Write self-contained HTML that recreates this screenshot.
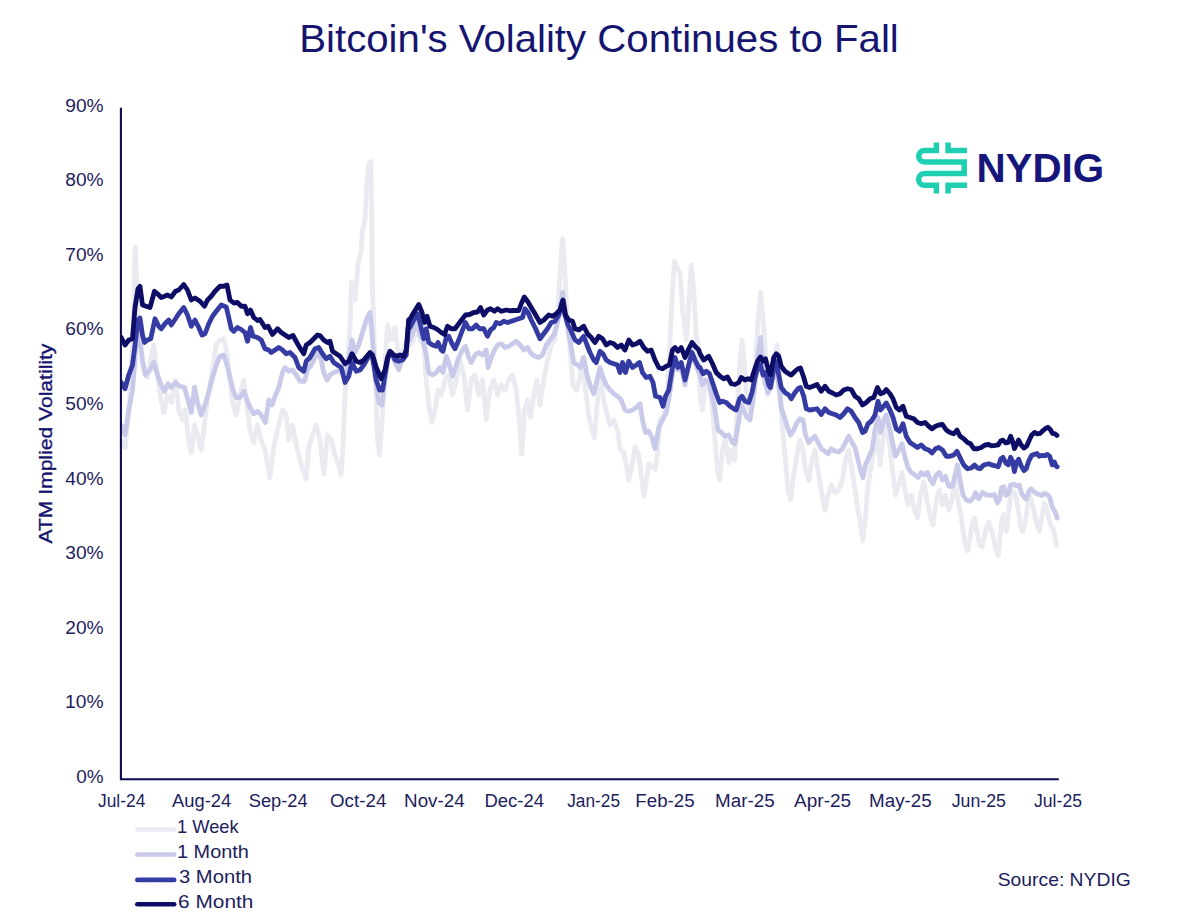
<!DOCTYPE html>
<html><head><meta charset="utf-8"><title>Bitcoin's Volality Continues to Fall</title>
<style>
html,body{margin:0;padding:0;background:#fff;}
body{width:1200px;height:917px;overflow:hidden;font-family:"Liberation Sans",sans-serif;}
svg{display:block;}
text{font-family:"Liberation Sans",sans-serif;}
</style></head><body>
<svg width="1200" height="917" viewBox="0 0 1200 917">
<rect width="1200" height="917" fill="#ffffff"/>
<defs><clipPath id="plot"><rect x="121.5" y="100" width="960" height="690"/></clipPath></defs>
<text x="299.30" y="52.2" font-size="38.5" fill="#15156f"  textLength="599.50" lengthAdjust="spacingAndGlyphs">Bitcoin's Volality Continues to Fall</text>
<text x="76.25" y="782.95" font-size="18" fill="#1d1d5c"  textLength="27.33" lengthAdjust="spacingAndGlyphs">0%</text>
<text x="65.10" y="708.37" font-size="18" fill="#1d1d5c"  textLength="38.48" lengthAdjust="spacingAndGlyphs">10%</text>
<text x="65.25" y="633.7900000000001" font-size="18" fill="#1d1d5c"  textLength="38.33" lengthAdjust="spacingAndGlyphs">20%</text>
<text x="65.25" y="559.21" font-size="18" fill="#1d1d5c"  textLength="38.33" lengthAdjust="spacingAndGlyphs">30%</text>
<text x="65.25" y="484.63" font-size="18" fill="#1d1d5c"  textLength="38.33" lengthAdjust="spacingAndGlyphs">40%</text>
<text x="65.25" y="410.04999999999995" font-size="18" fill="#1d1d5c"  textLength="38.33" lengthAdjust="spacingAndGlyphs">50%</text>
<text x="65.25" y="335.46999999999997" font-size="18" fill="#1d1d5c"  textLength="38.33" lengthAdjust="spacingAndGlyphs">60%</text>
<text x="65.25" y="260.88999999999993" font-size="18" fill="#1d1d5c"  textLength="38.33" lengthAdjust="spacingAndGlyphs">70%</text>
<text x="65.25" y="186.31" font-size="18" fill="#1d1d5c"  textLength="38.33" lengthAdjust="spacingAndGlyphs">80%</text>
<text x="65.25" y="111.72999999999998" font-size="18" fill="#1d1d5c"  textLength="38.33" lengthAdjust="spacingAndGlyphs">90%</text>
<text x="98.00" y="807.4" font-size="18" fill="#1d1d5c"  textLength="47.34" lengthAdjust="spacingAndGlyphs">Jul-24</text>
<text x="172.00" y="807.4" font-size="18" fill="#1d1d5c"  textLength="59.16" lengthAdjust="spacingAndGlyphs">Aug-24</text>
<text x="248.76" y="807.4" font-size="18" fill="#1d1d5c"  textLength="58.90" lengthAdjust="spacingAndGlyphs">Sep-24</text>
<text x="330.00" y="807.4" font-size="18" fill="#1d1d5c"  textLength="56.34" lengthAdjust="spacingAndGlyphs">Oct-24</text>
<text x="404.10" y="807.4" font-size="18" fill="#1d1d5c"  textLength="60.56" lengthAdjust="spacingAndGlyphs">Nov-24</text>
<text x="484.44" y="807.4" font-size="18" fill="#1d1d5c"  textLength="59.56" lengthAdjust="spacingAndGlyphs">Dec-24</text>
<text x="567.24" y="807.4" font-size="18" fill="#1d1d5c"  textLength="52.76" lengthAdjust="spacingAndGlyphs">Jan-25</text>
<text x="635.36" y="807.4" font-size="18" fill="#1d1d5c"  textLength="59.22" lengthAdjust="spacingAndGlyphs">Feb-25</text>
<text x="715.10" y="807.4" font-size="18" fill="#1d1d5c"  textLength="59.48" lengthAdjust="spacingAndGlyphs">Mar-25</text>
<text x="794.00" y="807.4" font-size="18" fill="#1d1d5c"  textLength="57.16" lengthAdjust="spacingAndGlyphs">Apr-25</text>
<text x="869.10" y="807.4" font-size="18" fill="#1d1d5c"  textLength="62.64" lengthAdjust="spacingAndGlyphs">May-25</text>
<text x="951.74" y="807.4" font-size="18" fill="#1d1d5c"  textLength="54.26" lengthAdjust="spacingAndGlyphs">Jun-25</text>
<text x="1034.00" y="807.4" font-size="18" fill="#1d1d5c"  textLength="48.00" lengthAdjust="spacingAndGlyphs">Jul-25</text>
<text x="177.02" y="832.6" font-size="18.5" fill="#1d1d5c"  textLength="61.66" lengthAdjust="spacingAndGlyphs">1 Week</text>
<text x="177.02" y="857.6" font-size="18.5" fill="#1d1d5c"  textLength="71.80" lengthAdjust="spacingAndGlyphs">1 Month</text>
<text x="179.00" y="883" font-size="18.5" fill="#1d1d5c"  textLength="73.08" lengthAdjust="spacingAndGlyphs">3 Month</text>
<text x="178.10" y="908.25" font-size="18.5" fill="#1d1d5c"  textLength="75.30" lengthAdjust="spacingAndGlyphs">6 Month</text>
<text x="997.68" y="885.8" font-size="19" fill="#1d1d5c"  textLength="133.14" lengthAdjust="spacingAndGlyphs">Source: NYDIG</text>
<text x="976.46" y="181.7" font-size="40.5" fill="#15157a" font-weight="bold" textLength="127.76" lengthAdjust="spacingAndGlyphs">NYDIG</text>
<text transform="translate(51.6,543.6) rotate(-90)" font-size="18" fill="#15156f" stroke="#15156f" stroke-width="0.35" textLength="200" lengthAdjust="spacingAndGlyphs">ATM Implied Volatility</text>
<path d="M121.25,440 L125,447.5 L128.75,415 L132,352.5 L133.5,315 L134.5,270 L135,247 L135.5,247 L136.25,270 L137.5,310 L140,340 L143.75,365 L147.5,377.5 L151.25,357.5 L153.75,345 L157.5,375 L161.25,400 L163.75,412.5 L167.5,395 L171.25,402.5 L175.5,380 L178.75,410 L182.5,420 L185,410 L188.75,440 L191.25,452.5 L194.5,425 L197.5,435 L201.25,450 L205,420 L208.75,390 L212.5,370 L216.25,345 L220,340 L223.75,338.75 L227,352.5 L230,380 L233,405 L236.25,415 L240,395 L243.75,380 L247,405 L250,430 L253.75,442.5 L257.5,425 L261.25,440 L265,450 L270,477.5 L273.75,447.5 L277.5,430 L282.5,410 L286.25,415 L288.75,440 L292.5,425 L296.25,445 L301.25,465 L306,478.75 L308.75,447.5 L312.5,435 L316.25,425 L320,440 L323.75,473.75 L327.5,435 L331.25,440 L335,455 L338.75,465 L341,475 L342.5,457.5 L345,395 L347.5,360 L350,327.5 L351.5,282.5 L353,287.5 L355,300 L358,265 L361.25,250 L362.5,230 L365,220 L367,180 L369,163.75 L371,161.25 L372.5,290 L375,365 L377.5,440 L379.5,455 L382.5,415 L385,365 L387.5,325 L391.25,340 L395,327.5 L398.75,360 L402.5,350 L406.25,345 L408.75,322.5 L410,345 L413.75,340 L417,322.5 L420,340 L423.75,345 L426.25,380 L428.75,405 L432,422.5 L435,410 L438,390 L441.25,395 L445,380 L448.75,375 L452.5,395 L456.25,380 L460,360 L463.75,375 L467.5,410 L471.25,380 L475,375 L478.75,395 L482.5,380 L486.25,420 L490,390 L493.75,380 L497.5,395 L501.25,385 L505,390 L508.75,380 L512.5,375 L516.25,390 L518.75,415 L521.75,453.75 L524.5,410 L527.5,400 L530.5,417.5 L533.75,395 L537,380 L540,405 L543.75,380 L547.5,360 L551.25,345 L555,340 L558,310 L560.5,265 L562.5,238.75 L564.5,265 L567,315 L570,350 L573,385 L576.25,390 L579.5,380 L582.5,357.5 L585.5,390 L588.75,415 L592,430 L594.5,437.5 L597.5,400 L600.5,380 L603.75,400 L607,415 L610,425 L613.75,420 L617.5,430 L620,449 L623.75,452.5 L626.25,465 L628.75,480 L632,465 L635.25,446.75 L638.75,455 L641.25,475 L644,496 L646.5,480 L648.75,464 L652,466.25 L655.25,469.25 L657.5,452.5 L660,420 L663.75,415 L667,400 L670,340 L672.5,290 L674.5,261.25 L677,267.5 L680,272.5 L683,315 L686.25,340 L688.75,302.5 L691.25,265 L693.75,290 L696.25,335 L698.75,352.5 L700,395 L702.5,410 L705.5,382.5 L708.75,385 L712,405 L715,440 L717.5,470 L719.5,480 L722.5,450 L725.5,440 L728.75,462.5 L732,450 L734.5,460 L737.5,405 L740,362.5 L742,340 L744.5,365 L747,405 L750,410 L752.5,395 L755.5,362.5 L758,320 L760.5,292.5 L762.5,312.5 L765,345 L767.5,395 L770.5,382.5 L773.75,357.5 L777,345 L779.5,370 L782,425 L785,455 L788,490 L790.5,500 L793.75,475 L797,455 L800,440 L803,450 L805.5,470 L808.75,480 L812,460 L815,450 L818,470 L821.25,490 L825,510 L828,495 L831.25,485 L835,492.5 L838.75,490 L842.5,480 L845.5,460 L848.75,450 L852,470 L855,490 L858,510 L860,520 L862.75,541 L865.25,520 L867.5,490 L870.5,470 L873.75,450 L877,435 L880,465 L883,440 L886.25,420 L889.5,445 L892.5,470 L895.5,495 L898.75,485 L902,472.5 L905,490 L908,505 L911.25,495 L914.5,510 L917.5,517.5 L920.5,495 L923.75,482.5 L927,500 L930,515 L933,525 L936.25,500 L939.5,490 L942.5,505 L945.5,495 L948.75,510 L952,500 L955,480 L958,500 L961.25,517.5 L962.9,529.77 L965.19,545.04 L967.67,550.76 L970.15,537.4 L972.44,522.14 L974.73,518.32 L977.21,533.59 L979.69,545.04 L981.98,546.95 L984.27,537.4 L986.76,525.95 L988.66,522.14 L991.15,529.77 L993.44,537.4 L995.73,548.85 L998.21,555.53 L1000.11,537.4 L1002.02,518.32 L1003.93,514.5 L1006.41,531.68 L1008.32,514.5 L1010.61,495.42 L1012.9,491.6 L1015.38,493.51 L1017.86,506.87 L1020.15,524.05 L1022.44,531.68 L1024.92,524.05 L1027.4,506.87 L1029.69,495.42 L1031.98,503.05 L1034.47,514.5 L1036.95,524.05 L1039.24,531.68 L1041.53,518.32 L1044.01,503.05 L1046.49,506.87 L1048.78,518.32 L1051.07,525.95 L1053.55,529.77 L1055.08,537.4 L1056.6,545.42" fill="none" stroke="#eaeaf1" stroke-width="4.8" stroke-linejoin="round" stroke-linecap="round" clip-path="url(#plot)"/>
<path d="M121.25,425 L125,435 L128.75,410 L132.5,390 L135,360 L137.5,322.5 L140,340 L142.5,362.5 L145.5,375 L150,370 L153.75,362.5 L157.5,375 L161.25,385 L164.5,391.25 L168,383.75 L171.25,387.5 L175.5,382.5 L180,386.25 L184.5,387.5 L188,400 L191.25,412.5 L194.5,387.5 L197.5,402.5 L201.25,415 L205,405 L208.75,392.5 L212.5,377.5 L216.25,365 L220,356.25 L223.75,355 L227,365 L230,377.5 L233,390 L236.25,397.5 L240,397.5 L243.75,391.25 L247,400 L250,407.5 L253.75,413.75 L257.5,411.25 L261.25,415 L265.5,422.5 L268.75,400 L272,405 L275,396.25 L278.75,387.5 L282.5,372.5 L285,367.5 L288.75,371.25 L292.5,370 L296.25,375 L300,381.25 L304.5,381.25 L307.5,370 L311.25,365 L315,357.5 L318.75,352.5 L321.25,360 L323.75,372.5 L327,380 L330,375 L333.75,372.5 L337.5,371.25 L341.25,370 L345,377.5 L348.75,360 L352,340 L355,352.5 L358.75,345 L362.5,332.5 L366.25,320 L370,312.5 L372.5,340 L375.5,380 L378.75,402.5 L382,405 L385,380 L388,357.5 L391.25,352.5 L395,362.5 L398.75,370 L402.5,357.5 L406.25,350 L408.75,322.5 L410,340 L413.75,330 L417,320 L420,335 L423,340 L426.25,355 L428.75,372.5 L432.5,375 L436.25,372.5 L440,367.5 L443,372.5 L446.25,356.25 L448.75,362.5 L452.5,376.25 L455.5,367.5 L458.75,357.5 L462.5,350 L465.5,346.25 L468.75,357.5 L471.25,362.5 L475,355 L478.75,352.5 L482.5,355 L486.25,350 L488,367.5 L491.25,357.5 L494.5,350 L497.5,345 L501.25,343.75 L505,347.5 L508.75,346.25 L512.5,343.75 L516.25,341.25 L520,345 L523.75,350 L527.5,347.5 L531.25,353.75 L535,356.25 L538.75,357.5 L542.5,355 L546.25,345 L550,340 L553.75,335 L557,325 L560,312.5 L562.5,292.5 L565,310 L568,330 L571.25,347.5 L573.75,362.5 L577.5,365 L580.5,367.5 L583.75,357.5 L587,375 L590,385 L593.75,393.75 L597,380 L600,367.5 L603,377.5 L606.25,385 L610,390 L613.75,393.75 L617.5,396.25 L621.25,400 L625,410 L628.75,411.25 L632.5,410 L636.25,407.5 L640,403.75 L642.5,420 L645.5,432.5 L648.75,431.25 L652,437.5 L655,448.75 L658.75,427.5 L662.5,420 L666.25,412.5 L669.5,395 L672.5,375 L675,357.5 L678,370 L681.25,367.5 L685,385 L688.75,365 L691.25,350 L695,362.5 L698.75,372.5 L700,375 L702.5,385 L705.5,380 L708.75,382.5 L712,395 L715,410 L718,430 L721.25,432.5 L725,436.25 L728.75,435 L732.5,442.5 L735,443.75 L738,425 L741.25,405 L743.75,410 L747,417.5 L750,420 L753,400 L755.5,380 L758,355 L760.5,337.5 L762.5,362.5 L765,382.5 L768,392.5 L770.5,387.5 L773.75,372.5 L776.25,370 L778.75,385 L781.25,407.5 L784.5,417.5 L787.5,427.5 L790.5,435 L793.75,430 L797,422.5 L800,418.75 L803,420 L805.5,435 L808.75,442.5 L812,438.75 L815,436.25 L818,442.5 L821.25,448.75 L825,451.25 L828,453.75 L831.25,448.75 L835,451.25 L838.75,452 L842.5,448.75 L845.5,442.5 L848.75,436.25 L852,442.5 L855,447.5 L858,460 L860.5,470 L863,477.5 L865.5,465 L868.75,457.5 L872,450 L875,430 L878,417.5 L880.5,432.5 L883.75,420 L886.25,415 L889.5,427.5 L892.5,442.5 L895.5,456.25 L898.75,450 L902,443.75 L905,457.5 L908,467.5 L911.25,472.5 L915,475 L918,477.5 L921.25,472.5 L924.5,475 L927.5,472.5 L930.5,480 L933,483.75 L936.25,475 L939.5,472.5 L942.5,480 L945.5,476.25 L948.75,486.25 L952.5,486.25 L955,475 L957.5,465 L960,480 L963,495 L966.25,500 L970,501.25 L973.75,497.5 L975.5,492.5 L978.75,498.75 L982.5,492.5 L986.25,495 L988.75,495 L991.53,495.42 L994.39,494.47 L997.25,503.05 L999.54,499.24 L1001.45,487.79 L1003.93,486.83 L1005.84,495.42 L1008.32,493.51 L1010.61,484.92 L1013.47,483.97 L1016.34,485.88 L1019.2,484.92 L1021.68,493.51 L1023.97,497.33 L1026.26,499.24 L1028.74,491.6 L1031.22,488.74 L1033.51,491.6 L1036.37,493.51 L1039.24,494.47 L1042.1,495.42 L1044.58,493.51 L1047.25,494.47 L1049.73,497.33 L1052.21,506.87 L1054.5,510.69 L1056.03,514.5 L1057.18,517.94" fill="none" stroke="#c9cae9" stroke-width="4.8" stroke-linejoin="round" stroke-linecap="round" clip-path="url(#plot)"/>
<path d="M121.25,382.5 L125,388.75 L128.75,375 L132.5,365 L135,345 L138,320 L140,318 L142.5,335 L144.5,342.5 L147.5,340 L150.75,338.75 L155,318.75 L158.75,326.25 L161.25,328.75 L165,323.75 L168.75,320 L171.25,325 L175.5,318.75 L178.75,313.75 L183.75,307.5 L187.5,315 L191.25,326.25 L195,320 L198.75,327.5 L202,335 L205,333.75 L208.75,323.75 L212.5,316.25 L216.25,311.25 L221.25,305 L226.25,307 L228.75,317.5 L231.25,328.75 L233.75,331.25 L237.5,327.5 L241.25,329.5 L245,332.5 L247.5,341.25 L250.5,327.5 L253,336.25 L257.5,337.5 L261.25,340 L265,348.75 L268.75,350 L271.25,352.5 L275,350 L278.75,347.5 L282.5,350 L286.25,353.75 L290,352.5 L295,357.5 L298.75,367.5 L303.75,371.25 L306.25,361.25 L310,357.5 L315,348.75 L318.75,347.5 L322.5,353.75 L326.25,358.75 L330,356.25 L333.75,362.5 L337.5,365 L341.25,367.5 L345,382.5 L348.75,376.25 L352,362.5 L356.25,371.25 L360,370 L363.75,365 L370,353.75 L372.5,357.5 L376.25,380 L379.5,390 L382.5,390 L385,375 L388,357.5 L391.25,352.5 L395,360 L398.75,361.25 L402.5,360 L406.25,355 L408.75,320 L410,327.5 L413.75,320 L417.5,313.75 L420.5,325 L423.75,338.75 L426.25,328.75 L428.75,342.5 L432.5,345 L436.25,346.25 L438,342.5 L441.25,350 L443,351.25 L446.25,337.5 L448.75,336.25 L452,343.75 L455,348.75 L458.75,340 L462.5,330 L465.5,322.5 L468.75,328.75 L472.5,328.75 L476.25,325 L479.5,328.75 L483.75,328.75 L487.5,336.25 L490.5,330 L493.75,327.5 L496.25,322.5 L500,323.75 L503.75,321.25 L507.5,322.5 L511.25,321.25 L515,320 L518.75,318.75 L522.5,317.5 L525,308.75 L528,312.5 L531.25,320 L535,327.5 L540,338.75 L543.75,333.75 L547.5,328.75 L551.25,322.5 L555,321.25 L558.75,315 L562.5,301.25 L565,315 L568,325 L571.25,331.25 L575,340 L578.75,342.5 L583.75,336.25 L587,345 L590,352.5 L593.75,360 L596.25,362.5 L600,351.25 L603,353.75 L606.25,360 L610,362.5 L613.75,363.75 L617.5,365 L620,372.5 L622.5,362.5 L625.5,372.5 L628.75,361.25 L632.5,367.5 L636.25,365 L639.5,362.5 L642.5,372.5 L646.25,377.5 L650,376.25 L653,382.5 L655.5,396.25 L660,397.5 L663,406.25 L665.5,396.25 L668.75,390 L672,370 L675,357.5 L678,367.5 L681.25,362.5 L685,380 L688.75,365 L692,352.5 L695,360 L698.75,367.5 L700,367.5 L703,373.75 L706.25,371.25 L709.5,373.75 L712.5,382.5 L716.25,393.75 L719.5,402.5 L722.5,401.25 L726.25,402.5 L730,406.25 L733.75,408.75 L736.25,410 L739.5,398.75 L742,396.25 L745,401.25 L748.75,402.5 L752,392.5 L755,377.5 L758,367.5 L760.5,365 L763,375 L765.5,372.5 L768.75,385 L770.5,387.5 L773.75,368.75 L776.25,361.25 L778.75,375 L781.25,387.5 L785,392.5 L788.75,395 L791.25,398.75 L795,392.5 L798,388.75 L800.5,387.5 L803.75,396.25 L806.25,408.75 L809.5,410 L813,409.5 L817,408.75 L821.25,414.5 L825,408.75 L828.75,412.5 L832.5,413.75 L836.25,415 L840,417.5 L843.75,413.75 L847.5,408.75 L851.25,411.25 L855,417.5 L858.75,422.5 L862.5,432.5 L865,431.25 L868,423.75 L871.25,421.25 L875,415 L878,401.25 L880.5,410 L883.75,406.25 L886.25,403 L890,410 L893,417.5 L896.25,428.75 L899.5,431.25 L903,423.75 L906.25,436.25 L910,442.5 L913.75,445 L917.5,447.5 L921.25,445 L925,448.75 L928.75,450 L932,453 L935.5,448.75 L938.75,447.5 L942.5,450 L946.25,456.25 L950,456.25 L953.75,455 L957,451.25 L960,457.5 L963.75,465 L967.5,468.75 L971.25,468 L974.5,465 L977.5,468 L980,468.75 L983.75,465 L988.75,463.75 L991.53,464.89 L995.34,465.84 L998.21,466.79 L1000.69,459.16 L1002.98,457.25 L1005.84,462.98 L1008.32,464.89 L1010.61,457.25 L1012.52,461.07 L1014.43,471.56 L1016.34,462.98 L1018.63,459.16 L1021.11,465.84 L1023.97,470.61 L1026.26,468.7 L1028.74,461.07 L1031.6,455.34 L1034.47,454.39 L1036.95,453.44 L1039.24,456.3 L1042.1,455.34 L1044.96,455.73 L1047.25,454.39 L1049.73,456.3 L1052.21,464.89 L1054.5,462.02 L1056.03,465.84 L1057.18,466.79" fill="none" stroke="#343ba2" stroke-width="4.8" stroke-linejoin="round" stroke-linecap="round" clip-path="url(#plot)"/>
<path d="M121.25,337.5 L125,345 L128.75,340 L132.5,338.75 L135,307.5 L138,288.75 L140,286.25 L142.5,305 L146.25,306.25 L150,307.5 L154.5,291.25 L157.5,293.75 L161.25,297.5 L164.5,296.25 L167.5,295 L171.25,297 L175.5,291.25 L178.75,290 L183.75,284.5 L187.5,290 L191.25,300 L195,298 L200,301.25 L204.5,306.25 L207.5,300 L211.25,296.25 L215,291.25 L220,286.25 L223.75,286.25 L227,285 L230,300 L233.75,303 L237.5,302.5 L241.25,306.25 L245,306.25 L247.5,313.75 L250.5,310 L253.75,317.5 L257.5,320.5 L260,319.5 L265,327.5 L268,326.25 L272.5,334.5 L277.5,328.75 L281.25,332.5 L285,335 L288.75,337.5 L293,335.5 L297.5,343.75 L301.25,350 L303.75,353.75 L306.25,345 L310,342.5 L313.75,338.75 L317.5,335 L320,335.5 L323.75,340 L327.5,342.5 L330,341.25 L332.5,351.25 L336.25,353.75 L340,356.25 L345,363.75 L348.75,361.25 L352,353.75 L356.25,361.25 L360,362.5 L363.75,360 L370,352.5 L372.5,355 L376.25,367.5 L381.25,378.75 L385,370 L387.5,357.5 L390,351.25 L393.75,355 L397.5,356.25 L400,355 L403.75,356.25 L406.25,350 L408.75,320 L409.5,320 L413.75,312.5 L418.75,304.5 L422,312.5 L424.5,322.5 L427,316.25 L430,326.25 L433.75,327.5 L437.5,329.5 L441.25,332.5 L444.5,334.5 L447.5,326.25 L451.25,328.75 L455,328.75 L458.75,323.75 L462.5,318.75 L465.5,315 L469.5,314.5 L473.75,312.5 L477.5,312 L480.5,307.5 L483.75,315 L487.5,310 L490.5,308.75 L494.5,311.25 L497.5,308.75 L501.25,311.25 L506.25,310 L510,310.75 L513.75,310.5 L518.75,310.5 L521.25,303.75 L524.25,297 L527.5,301.25 L531.25,307.5 L535,313.75 L540,322.5 L543.75,320 L548.75,315 L552.5,316.25 L556.25,313.75 L560,310 L563,300 L565.5,315 L568.75,320 L572.5,321.25 L575,328.75 L578.75,330 L583.75,326.25 L587.5,333.75 L591.25,337.5 L595,342.5 L598.75,336.25 L602.5,338.75 L606.25,345 L610,342.5 L613.75,343.75 L617.5,347.5 L621.25,345 L625,350 L628.75,340 L632.5,345 L636.25,343.75 L640,341.25 L643.75,347.5 L647.5,351.25 L651.25,350 L655,360 L658.75,367.5 L662.5,368.75 L666.25,366.25 L669.5,365 L672.5,350 L675,347.5 L678,351.25 L681.25,347.5 L685,357.5 L688.75,348.75 L692,342.5 L695,346.25 L698.75,350 L700,353.75 L703.75,360 L708.75,356.25 L712.5,363.75 L716.25,372.5 L720,376.25 L723.75,378.75 L727.5,377 L731.25,383.75 L735,384.5 L738.75,382.5 L741.25,377.5 L745,380 L748,378.75 L751.25,380 L754.5,370 L757.5,361.25 L760.5,357 L763,361.25 L765.5,358.75 L768.75,371.25 L770.5,375 L773.75,357.5 L776.25,353.75 L778.75,356.25 L781.25,366.25 L785,371.25 L788.75,373.75 L791.25,375 L795,371.25 L798,368.75 L800.5,368 L803.75,377.5 L806.25,386.25 L809.5,387.5 L813,386.25 L817,384.5 L821.25,391.25 L825,386.25 L828.75,391.25 L832.5,393 L836.25,395 L840,393.75 L843.75,390 L847.5,388.75 L851.25,389.5 L855,396.25 L858.75,398.75 L862.5,405 L866.25,402.5 L870,398.75 L873.75,397.5 L877.5,387.5 L880.5,393.75 L883.75,392.5 L886.25,389.5 L890,393.75 L893,398.75 L896.25,407.5 L899.5,410 L903,406.25 L906.25,416.25 L910,417.5 L913.75,418.75 L917.5,422.5 L921.25,423.75 L925,422.5 L928.75,426.25 L932,428.75 L935.5,426.25 L938.75,425 L942.5,424.5 L946.25,430 L950,432.5 L953.75,433.75 L957,430 L960,436.25 L963.75,438.75 L967.5,442.5 L970.5,443.75 L973.75,448.75 L977.5,448.75 L981.25,447.5 L985,445 L988.75,444.5 L991.53,445.8 L995.34,445.42 L998.21,444.85 L1000.69,441.03 L1002.98,440.08 L1005.84,442.94 L1008.32,442.37 L1010.61,436.26 L1012.52,441.03 L1014.43,448.66 L1016.34,444.85 L1018.63,440.08 L1021.11,444.85 L1023.97,448.09 L1026.83,445.8 L1029.31,440.08 L1031.6,435.31 L1034.47,432.44 L1037.33,433.97 L1040.19,433.4 L1043.05,430.53 L1045.92,428.24 L1047.82,427.29 L1050.31,429.58 L1052.6,433.4 L1055.27,433.97 L1056.98,435.5" fill="none" stroke="#0d0d66" stroke-width="4.8" stroke-linejoin="round" stroke-linecap="round" clip-path="url(#plot)"/>
<path d="M120.9,107.8 V779.25 H1058.8" fill="none" stroke="#0d0b52" stroke-width="2.1"/>
<line x1="137.3" y1="829.5" x2="174.2" y2="829.5" stroke="#eaeaf1" stroke-width="4.6" stroke-linecap="round"/>
<line x1="137.3" y1="854.5" x2="174.2" y2="854.5" stroke="#c9cae9" stroke-width="4.6" stroke-linecap="round"/>
<line x1="137.3" y1="879.9" x2="174.2" y2="879.9" stroke="#343ba2" stroke-width="4.6" stroke-linecap="round"/>
<line x1="137.3" y1="904.25" x2="174.2" y2="904.25" stroke="#0d0d66" stroke-width="4.6" stroke-linecap="round"/>
<g fill="none" stroke="#1fcfb1" stroke-width="5.5" stroke-linejoin="miter">
<path d="M936.4,142.6 V150.5 H924.5 A5.75,5.75 0 0 0 924.5,162 H964.2 V173.6 H924.5 A5.85,5.85 0 0 0 924.5,185.3 H936.4 V193.4"/>
<path d="M948.1,142.6 V150.5 H967"/>
<path d="M948.1,193.4 V185.3 H967"/>
</g>
</svg>
</body></html>
